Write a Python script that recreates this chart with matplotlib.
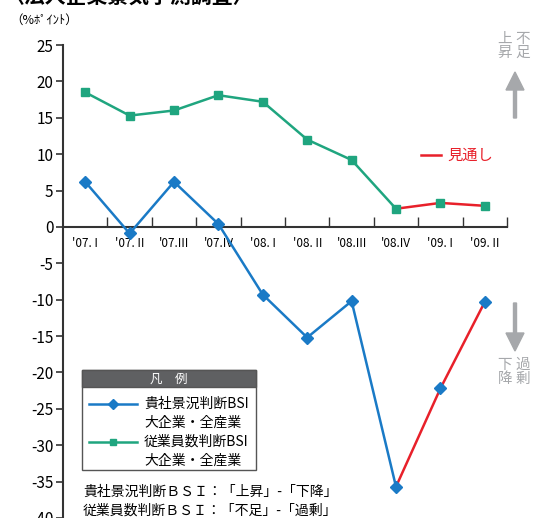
import matplotlib
matplotlib.use('Agg')
import matplotlib.pyplot as plt
from matplotlib.patches import Rectangle, FancyArrow
from matplotlib.lines import Line2D

plt.rcParams['font.family'] = ['Noto Sans CJK JP', 'DejaVu Sans']
plt.rcParams['axes.unicode_minus'] = False

quarters = ["'07. I", "'07. II", "'07.III", "'07.IV", "'08. I",
            "'08. II", "'08.III", "'08.IV", "'09. I", "'09. II"]
bsi_business = [6.2, -0.9, 6.2, 0.4, -9.3, -15.2, -10.2, -35.7, -22.2, -10.3]
bsi_employees = [18.5, 15.3, 16.0, 18.1, 17.2, 12.0, 9.2, 2.5, 3.3, 2.9]
n_actual = 8  # '07.I - '08.IV actual, rest forecast

blue = '#1a7ac6'
green = '#1fa57f'
red = '#e8202a'
gray = '#a6a8ab'
dark = '#333333'

W, H = 534, 518
fig = plt.figure(figsize=(W / 100, H / 100), dpi=100)


def px(x, y):
    return x / W, 1 - y / H


ax = fig.add_axes([63 / W, 0, 444 / W, 1 - 45 / H])
x = list(range(len(quarters)))

ax.plot(x[:n_actual], bsi_employees[:n_actual], color=green, lw=1.8, zorder=3)
ax.plot(x[n_actual - 1:], bsi_employees[n_actual - 1:], color=red, lw=1.8, zorder=3)
ax.plot(x, bsi_employees, ls='none', marker='s', ms=6, color=green, zorder=4)

ax.plot(x[:n_actual], bsi_business[:n_actual], color=blue, lw=1.8, zorder=3)
ax.plot(x[n_actual - 1:], bsi_business[n_actual - 1:], color=red, lw=1.8, zorder=3)
ax.plot(x, bsi_business, ls='none', marker='D', ms=6.5, color=blue, zorder=4)

ax.set_xlim(-0.5, len(quarters) - 0.5)
ax.set_ylim(-40, 25)
ax.set_yticks(range(-40, 26, 5))
ax.tick_params(axis='y', direction='out', length=5, width=1.2, color=dark,
               labelsize=11, pad=2, labelcolor='black')

for s in ['top', 'right']:
    ax.spines[s].set_visible(False)
ax.spines['left'].set_color(dark)
ax.spines['left'].set_linewidth(1.5)
ax.spines['bottom'].set_position(('data', 0))
ax.spines['bottom'].set_color(dark)
ax.spines['bottom'].set_linewidth(1.5)
ax.set_xticks([i + 0.5 for i in x])
ax.set_xticklabels([])
ax.tick_params(axis='x', which='major', direction='in', length=7, width=1, color=dark)
ax.set_xticks(x, minor=True)
ax.set_xticklabels(quarters, minor=True)
ax.tick_params(axis='x', which='minor', length=0, labelsize=8.5, pad=7)

# unit and cropped title
fig.text(*px(10, 20), '（%ﾎﾟｲﾝﾄ）', fontsize=9, va='center', ha='left')
fig.text(*px(3, -4), '〈法人企業景気予測調査〉', fontsize=15, fontweight='bold',
         va='center', ha='left')

# forecast label
fig.add_artist(Line2D([px(421, 0)[0], px(441, 0)[0]], [px(0, 155)[1]] * 2,
                      color=red, lw=1.8))
fig.text(*px(447, 155), '見通し', color=red, fontsize=11, va='center', ha='left')

# direction arrows
for cx, cy, txt in [(505, 46, '上\n昇'), (523, 46, '不\n足'),
                    (505, 372, '下\n降'), (523, 372, '過\n剰')]:
    fig.text(*px(cx, cy), txt, color=gray, fontsize=10.5, ha='center', va='center',
             linespacing=0.95)
ux, uy = px(515, 118)
_, uy2 = px(515, 72)
fig.add_artist(FancyArrow(ux, uy, 0, uy2 - uy, width=3 / W, head_width=18 / W,
                          head_length=18 / H, length_includes_head=True,
                          color=gray, transform=fig.transFigure))
dx, dy = px(515, 303)
_, dy2 = px(515, 351)
fig.add_artist(FancyArrow(dx, dy, 0, dy2 - dy, width=3 / W, head_width=18 / W,
                          head_length=18 / H, length_includes_head=True,
                          color=gray, transform=fig.transFigure))

# legend box
lx0, ly0 = px(82, 470)
lx1, ly1 = px(256, 370)
fig.add_artist(Rectangle((lx0, ly0), lx1 - lx0, ly1 - ly0, facecolor='white',
                         edgecolor='#555555', lw=1, transform=fig.transFigure, zorder=5))
_, hy = px(0, 387)
fig.add_artist(Rectangle((lx0, hy), lx1 - lx0, ly1 - hy, facecolor='#5f6062',
                         edgecolor='#555555', lw=1, transform=fig.transFigure, zorder=6))
fig.text(*px(169, 379), '凡　例', color='white', fontsize=9, ha='center', va='center',
         zorder=7)

for (color, marker, name, yy) in [(blue, 'D', '貴社景況判断BSI', 404),
                                  (green, 's', '従業員数判断BSI', 442)]:
    y = px(0, yy)[1]
    fig.add_artist(Line2D([px(89, 0)[0], px(137, 0)[0]], [y, y], color=color, lw=1.8,
                          zorder=7))
    fig.add_artist(Line2D([px(113, 0)[0]], [y], color=color, marker=marker, ms=5,
                          zorder=8))
    fig.text(*px(144, yy), name, fontsize=10, ha='left', va='center', zorder=7)
    fig.text(*px(144, yy + 19), '大企業・全産業', fontsize=10, ha='left', va='center',
             zorder=7)

fig.text(*px(83, 492), '貴社景況判断ＢＳＩ：「上昇」-「下降」', fontsize=10,
         ha='left', va='center')
fig.text(*px(83, 511), '従業員数判断ＢＳＩ：「不足」-「過剰」', fontsize=10,
         ha='left', va='center')

fig.savefig('out.png', dpi=100)
